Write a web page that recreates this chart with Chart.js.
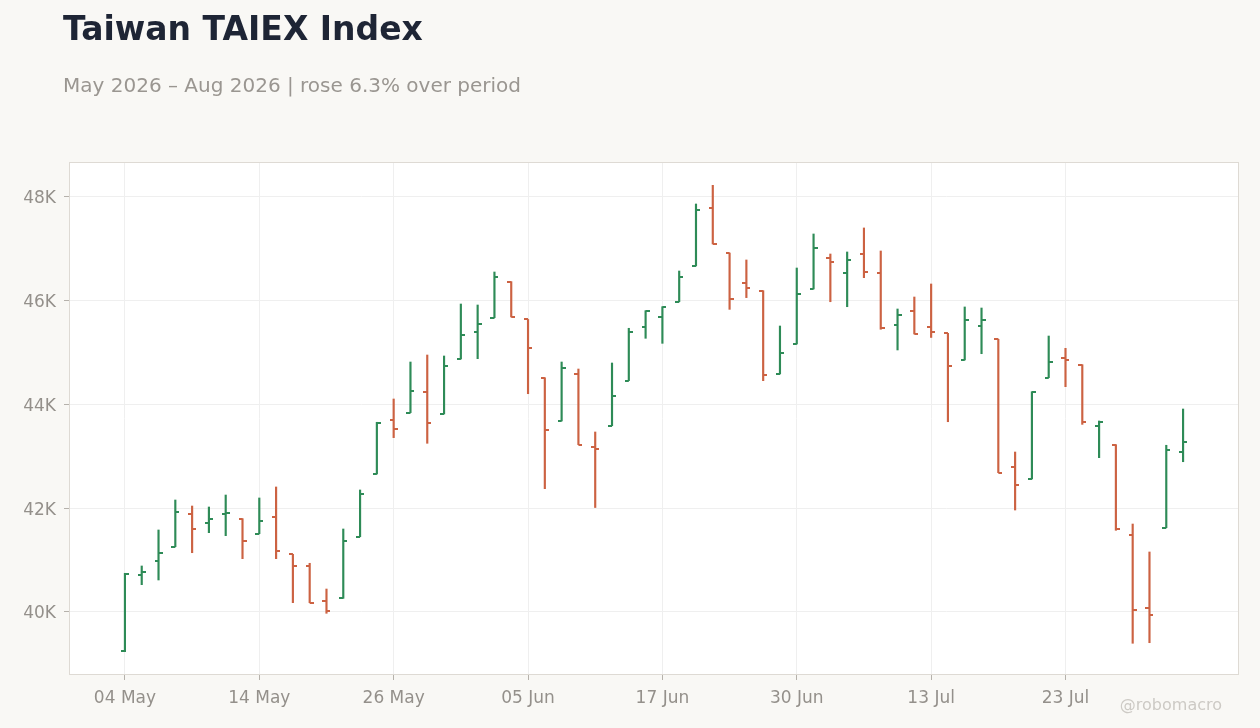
<!DOCTYPE html>
<html>
<head>
<meta charset="utf-8">
<script src="https://cdn.jsdelivr.net/npm/chart.js@4/dist/chart.umd.min.js"></script>
<style>
  body { margin: 0; background: #f9f8f5; font-family: "DejaVu Sans", sans-serif; }
  #wrap { position: absolute; left: 0; top: 0; width: 1260px; height: 728px; }
  #title { position: absolute; left: 63px; top: 12px; font-size: 33px; font-weight: bold; color: #1e2535; line-height: 1; white-space: nowrap; }
  #subtitle { position: absolute; left: 63px; top: 75px; font-size: 20px; color: #9a9691; line-height: 1; white-space: nowrap; }
  #credit { position: absolute; right: 38px; top: 697px; font-size: 16px; color: #cdcac5; line-height: 1; }
</style>
</head>
<body>
<div id="wrap">
  <canvas id="chart-1"></canvas>
</div>
<div id="title">Taiwan TAIEX Index</div>
<div id="subtitle">May 2026 – Aug 2026 | rose 6.3% over period</div>
<div id="credit">@robomacro</div>
<script>
// trading days shown on the chart
let dates = [
  '04 May','05 May','06 May','07 May','08 May','11 May','12 May','13 May','14 May','15 May',
  '18 May','19 May','20 May','21 May','22 May','25 May','26 May','27 May','28 May','29 May',
  '01 Jun','02 Jun','03 Jun','04 Jun','05 Jun','08 Jun','09 Jun','10 Jun','11 Jun','12 Jun',
  '15 Jun','16 Jun','17 Jun','18 Jun','22 Jun','23 Jun','24 Jun','25 Jun','26 Jun','29 Jun',
  '30 Jun','01 Jul','02 Jul','06 Jul','07 Jul','08 Jul','09 Jul','10 Jul','13 Jul','14 Jul',
  '15 Jul','16 Jul','17 Jul','20 Jul','21 Jul','22 Jul','23 Jul','24 Jul','27 Jul','28 Jul',
  '29 Jul','30 Jul','31 Jul','03 Aug'
];

let opens = [
  39240, 40720, 40990, 41259, 41895, 41722, 41895, 41799, 41510, 41837,
  41112, 40892, 40218, 40264, 41452, 42660, 43708, 43843, 44247, 43817,
  44877, 45403, 45673, 46368, 45639, 44516, 43682, 44594, 43187, 43591,
  44460, 45500, 45693, 45981, 46670, 47794, 46920, 46349, 46194, 44588,
  45166, 46227, 46830, 46541, 46907, 46541, 45532, 45808, 45500, 45372,
  44858, 45519, 45257, 42801, 42564, 44517, 44902, 44767, 43591, 43226,
  41490, 40071, 41626, 43090
];
let highs = [
  40746, 40887, 41581, 42159, 42043, 42024, 42255, 41799, 42198, 42410,
  41112, 40939, 40443, 41600, 42352, 43657, 44106, 44819, 44954, 44935,
  45937, 45918, 46554, 46368, 45639, 44516, 44819, 44684, 43470, 44800,
  45469, 45808, 45885, 46573, 47865, 48225, 46920, 46786, 46194, 45513,
  46631, 47287, 46901, 46940, 47403, 46959, 45841, 46072, 46323, 45372,
  45880, 45860, 45257, 43084, 44247, 45320, 45083, 44767, 43682, 43226,
  41696, 41157, 43214, 43913
];
let lows = [
  39235, 40527, 40617, 41259, 41143, 41529, 41471, 41028, 41510, 41028,
  40180, 40180, 39975, 40264, 41452, 42660, 43361, 43843, 43252, 43817,
  44877, 44883, 45673, 45687, 44208, 42377, 43682, 43226, 42014, 43591,
  44460, 45276, 45179, 45981, 46670, 47094, 45834, 46060, 44459, 44588,
  45166, 46227, 45981, 45885, 46445, 45450, 45051, 45359, 45292, 43668,
  44858, 44979, 42685, 41966, 42564, 44517, 44343, 43617, 42975, 41575,
  39397, 39408, 41626, 42897
];
let closes = [
  40727, 40777, 41143, 41934, 41606, 41799, 41914, 41375, 41760, 41182,
  40892, 40180, 40025, 41375, 42282, 43651, 43528, 44266, 43651, 44742,
  45340, 45557, 46464, 45687, 45080, 43508, 44709, 43226, 43149, 44170,
  45398, 45808, 45885, 46464, 47749, 47094, 46039, 46253, 44575, 44999,
  46130, 47023, 46753, 46786, 46560, 45475, 45725, 45359, 45388, 44748,
  45629, 45629, 42685, 42448, 44247, 44825, 44863, 43663, 43657, 41594,
  40045, 39949, 43129, 43283
];

let xTicks = [0, 8, 16, 24, 32, 40, 48, 56];
let yTicks = [40000, 42000, 44000, 46000, 48000];

const UP = '#2e8b57';
const DOWN = '#cc6242';

let ups = closes.map((c, i) => c >= opens[i]);

// small canvases used as point styles for the open (left) and close (right) ticks
function tickImage(color, side) {
    let c = document.createElement('canvas');
    c.width = 8;
    c.height = 2;
    let g = c.getContext('2d');
    g.fillStyle = color;
    g.fillRect(side === 'left' ? 0 : 4, 0, 4, 2);
    return c;
}
let openUp = tickImage(UP, 'left'), openDown = tickImage(DOWN, 'left');
let closeUp = tickImage(UP, 'right'), closeDown = tickImage(DOWN, 'right');

let hi = Math.max(...highs), lo = Math.min(...lows);
let yPad = (hi - lo) * 0.05;
let xPad = 3.33;

const tickFont = { family: 'DejaVu Sans', size: 17 };
const tickColor = '#94908b';

const plotFrame = {
    id: 'plotFrame',
    beforeDraw(chart) {
        let a = chart.chartArea, ctx = chart.ctx;
        ctx.save();
        ctx.fillStyle = '#ffffff';
        ctx.fillRect(a.left, a.top, a.right - a.left, a.bottom - a.top);
        ctx.restore();
    },
    afterDraw(chart) {
        let a = chart.chartArea, ctx = chart.ctx;
        ctx.save();
        ctx.strokeStyle = '#dedad4';
        ctx.lineWidth = 1;
        ctx.strokeRect(a.left + 0.5, a.top + 0.5, a.right - a.left - 1, a.bottom - a.top - 1);
        ctx.restore();
    }
};

let chart_1 = document.getElementById('chart-1');

new Chart(chart_1, {
    type: 'bar',
    data: {
        datasets: [{
            type: 'bar',
            data: highs.map((h, i) => ({ x: i, y: [lows[i], h] })),
            backgroundColor: ups.map(u => u ? UP : DOWN),
            borderWidth: 0,
            barThickness: 1.5,
            order: 2
        }, {
            type: 'line',
            data: opens.map((o, i) => ({ x: i, y: o })),
            showLine: false,
            pointRadius: 4,
            pointStyle: ctx => ups[ctx.dataIndex] ? openUp : openDown,
            order: 1
        }, {
            type: 'line',
            data: closes.map((c, i) => ({ x: i, y: c })),
            showLine: false,
            pointRadius: 4,
            pointStyle: ctx => ups[ctx.dataIndex] ? closeUp : closeDown,
            order: 1
        }]
    },
    options: {
        responsive: true,
        maintainAspectRatio: false,
        animation: false,
        events: [],
        layout: { padding: { top: 162, right: 21, left: 0, bottom: 0 } },
        plugins: {
            legend: { display: false },
            tooltip: { enabled: false }
        },
        scales: {
            x: {
                type: 'linear',
                offset: false,
                min: -xPad,
                max: dates.length - 1 + xPad,
                afterBuildTicks: scale => { scale.ticks = xTicks.map(v => ({ value: v })); },
                afterFit: scale => { scale.height = 53; },
                grid: { offset: false, color: '#efefef', tickColor: '#b5b1ab', tickLength: 5 },
                border: { display: false },
                ticks: {
                    font: tickFont,
                    color: tickColor,
                    padding: 8,
                    maxRotation: 0,
                    callback: v => dates[v]
                }
            },
            y: {
                min: lo - yPad,
                max: hi + yPad,
                afterBuildTicks: scale => { scale.ticks = yTicks.map(v => ({ value: v })); },
                afterFit: scale => { scale.width = 69; },
                grid: { color: '#efefef', tickColor: '#b5b1ab', tickLength: 5 },
                border: { display: false },
                ticks: {
                    font: tickFont,
                    color: tickColor,
                    padding: 8,
                    labelOffset: 2,
                    callback: v => (v / 1000) + 'K'
                }
            }
        }
    },
    plugins: [plotFrame]
});
</script>
</body>
</html>
